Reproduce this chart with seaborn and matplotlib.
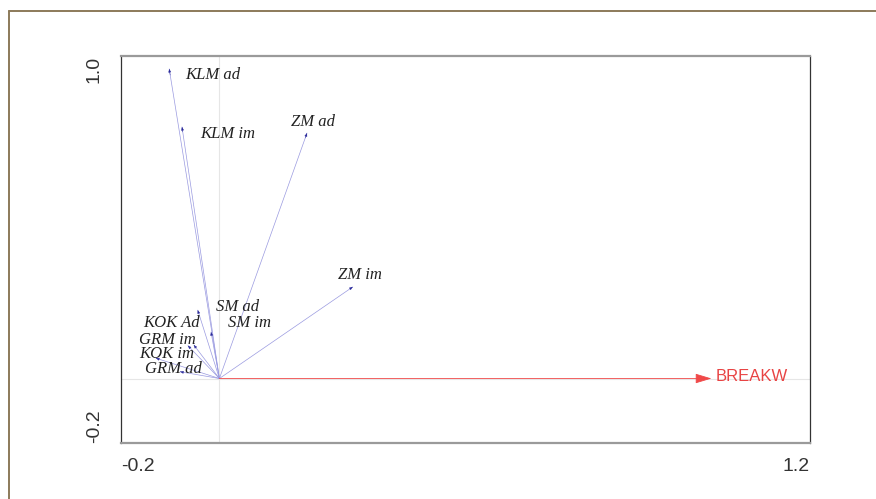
import numpy as np
import pandas as pd
import seaborn as sns
import matplotlib.pyplot as plt
from matplotlib.lines import Line2D

# species scores (arrow tips)
species = ["KLM ad", "KLM im", "ZM ad", "ZM im", "SM ad", "SM im",
           "KOK Ad", "GRM im", "KOK im", "GRM ad"]
axis1 = [-0.102, -0.076, 0.178, 0.271, -0.044, -0.017, -0.052, -0.064, -0.129, -0.080]
axis2 = [0.960, 0.780, 0.761, 0.284, 0.212, 0.144, 0.104, 0.102, 0.063, 0.021]

# environmental variable
env_name = "BREAKW"
env_x = 1.0
env_y = 0.0

xticks = [-0.2, 0.0, 0.2, 0.4, 0.6, 0.8, 1.0, 1.2]
xticklabels = ["-0.2", "", "", "", "", "", "", "1.2"]
yticks = [-0.2, 0.0, 0.2, 0.4, 0.6, 0.8, 1.0]
yticklabels = ["-0.2", "", "", "", "", "", "1.0"]

# label placement (pixels from the arrow tip, label centre)
label_offsets = [(44, -6), (46, -7), (6, 11), (7, 12), (40, 3), (38, 9),
                 (-22, 22), (-21, 6), (11, 4), (-7, 3)]

sns.set_style("white")
plt.rcParams["font.family"] = ["Liberation Sans", "DejaVu Sans"]

# long form table: origin + tip for each species so lineplot draws one segment each
rows = []
for s, x, y in zip(species, axis1, axis2):
    rows.append({"species": s, "x": 0.0, "y": 0.0, "step": 0})
    rows.append({"species": s, "x": x, "y": y, "step": 1})
seg = pd.DataFrame(rows)

fig = plt.figure(figsize=(8.76, 4.99), dpi=100)
ax = fig.add_axes([0.1381, 0.1122, 0.7865, 0.7756])

# faint zero lines
ax.axvline(0, color="#e6e6e6", lw=0.8, zorder=0)
ax.axhline(0, color="#e6e6e6", lw=0.8, zorder=0)

sns.lineplot(data=seg, x="x", y="y", units="species", estimator=None, sort=False,
             color="#9a9ae0", lw=0.5, ax=ax, legend=False)

# small dark arrow heads at the tips
for x, y in zip(axis1, axis2):
    ax.annotate("", xy=(x, y), xytext=(x * 0.98, y * 0.98),
                arrowprops=dict(arrowstyle="-|>,head_length=0.5,head_width=0.2",
                                color="#2a2a9a", lw=0.3, mutation_scale=4,
                                shrinkA=0, shrinkB=0))

for s, x, y, (dx, dy) in zip(species, axis1, axis2, label_offsets):
    ax.annotate(s, xy=(x, y), xytext=(dx, dy), textcoords="offset pixels",
                ha="center", va="center", fontsize=12, style="italic",
                family="Liberation Serif", color="#222222")

# environmental arrow
ax.annotate("", xy=(env_x, env_y), xytext=(0, 0),
            arrowprops=dict(arrowstyle="-|>,head_length=1.0,head_width=0.3",
                            color="#f04848", lw=0.6, mutation_scale=10,
                            shrinkA=0, shrinkB=0))
ax.annotate(env_name, xy=(env_x, env_y), xytext=(4, 2), textcoords="offset pixels",
            ha="left", va="center", fontsize=12, color="#e84444")

ax.set_xlim(-0.2, 1.2)
ax.set_ylim(-0.2, 1.0)
ax.set_xticks(xticks)
ax.set_xticklabels(xticklabels, fontsize=14, color="#333333")
ax.set_yticks(yticks)
ax.set_yticklabels(yticklabels, fontsize=14, color="#333333", rotation=90)
ax.set_xlabel("")
ax.set_ylabel("")
ax.get_xticklabels()[0].set_ha("left")
ax.get_xticklabels()[-1].set_ha("right")
ax.get_yticklabels()[0].set_va("bottom")
ax.get_yticklabels()[-1].set_va("top")
ax.tick_params(axis="both", direction="inout", length=6, width=0.8,
               color="#444444", pad=8)
ax.tick_params(axis="y", pad=10)

for side in ["left", "right"]:
    ax.spines[side].set_color("#333333")
    ax.spines[side].set_linewidth(0.9)
for side in ["top", "bottom"]:
    ax.spines[side].set_color("#9a9a9a")
    ax.spines[side].set_linewidth(1.6)

# outer frame of the original picture (top and left edges)
ytop = 1 - 11 / 499
xleft = 9 / 876
fig.add_artist(Line2D([xleft, 1], [ytop, ytop], transform=fig.transFigure,
                      color="#8c7a5a", lw=1.4))
fig.add_artist(Line2D([xleft, xleft], [0, ytop], transform=fig.transFigure,
                      color="#8c7a5a", lw=1.4))

fig.savefig("out.png", dpi=100)
